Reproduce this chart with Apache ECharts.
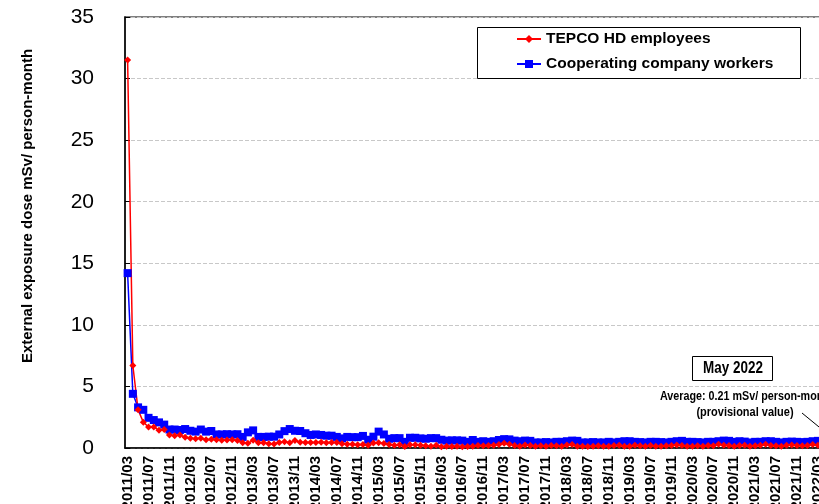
<!DOCTYPE html>
<html>
<head>
<meta charset="utf-8">
<script src="https://cdn.jsdelivr.net/npm/echarts@6/dist/echarts.min.js"></script>
<style>
  html, body { margin: 0; padding: 0; background: #fff; }
  #chart { width: 819px; height: 504px; }
</style>
</head>
<body>
<div id="chart"></div>
<script>
// month labels 2011/03 .. 2022/05
const months = [];
for (let y = 2011, m = 3; y < 2022 || (y === 2022 && m <= 5); m++) {
  if (m > 12) { m = 1; y++; }
  months.push(y + "/" + String(m).padStart(2, "0"));
}

const tepco = [
  31.5, 6.7, 3.1, 2.1, 1.7, 1.7, 1.45, 1.5, 1.05, 1.0,
  1.05, 0.87, 0.8, 0.75, 0.8, 0.67, 0.72, 0.67, 0.62, 0.64,
  0.67, 0.6, 0.43, 0.38, 0.62, 0.43, 0.43, 0.35, 0.33, 0.45,
  0.5, 0.43, 0.6, 0.46, 0.45, 0.45, 0.44, 0.46, 0.43, 0.45,
  0.44, 0.35, 0.3, 0.3, 0.27, 0.28, 0.22, 0.4, 0.43, 0.36,
  0.28, 0.22, 0.27, 0.12, 0.27, 0.27, 0.22, 0.18, 0.15, 0.22,
  0.1, 0.15, 0.12, 0.15, 0.1, 0.12, 0.15, 0.2, 0.18, 0.2,
  0.22, 0.28, 0.38, 0.3, 0.2, 0.15, 0.25, 0.2, 0.15, 0.18,
  0.15, 0.2, 0.18, 0.15, 0.25, 0.28, 0.15, 0.15, 0.12, 0.15,
  0.18, 0.15, 0.15, 0.2, 0.22, 0.15, 0.15, 0.22, 0.18, 0.15,
  0.2, 0.15, 0.15, 0.18, 0.2, 0.25, 0.2, 0.15, 0.15, 0.18,
  0.15, 0.2, 0.18, 0.3, 0.22, 0.2, 0.15, 0.2, 0.22, 0.15,
  0.18, 0.22, 0.3, 0.2, 0.18, 0.15, 0.22, 0.25, 0.2, 0.18,
  0.2, 0.28, 0.22, 0.25, 0.21
];

const workers = [
  14.2, 4.4, 3.3, 3.1, 2.45, 2.27, 2.08, 1.9, 1.5, 1.5,
  1.46, 1.54, 1.4, 1.33, 1.5, 1.33, 1.38, 1.1, 1.1, 1.12,
  1.1, 1.12, 0.9, 1.27, 1.43, 0.9, 0.9, 0.92, 0.92, 1.1,
  1.37, 1.54, 1.4, 1.38, 1.2, 1.06, 1.1, 1.06, 1.0, 1.0,
  0.9, 0.78, 0.9, 0.88, 0.88, 0.98, 0.67, 0.92, 1.33, 1.1,
  0.75, 0.8, 0.8, 0.5, 0.83, 0.83, 0.78, 0.75, 0.8, 0.8,
  0.67, 0.6, 0.62, 0.62, 0.6, 0.5, 0.65, 0.5, 0.55, 0.5,
  0.55, 0.65, 0.72, 0.7, 0.6, 0.55, 0.6, 0.58, 0.45, 0.45,
  0.48, 0.45, 0.5, 0.5, 0.55, 0.6, 0.58, 0.45, 0.45, 0.48,
  0.45, 0.45, 0.5, 0.45, 0.5, 0.55, 0.55, 0.5, 0.48, 0.45,
  0.5, 0.5, 0.48, 0.45, 0.5, 0.55, 0.58, 0.5, 0.5, 0.48,
  0.45, 0.5, 0.5, 0.55, 0.6, 0.58, 0.5, 0.55, 0.52, 0.45,
  0.5, 0.5, 0.55, 0.55, 0.5, 0.45, 0.5, 0.52, 0.5, 0.48,
  0.5, 0.55, 0.58, 0.55, 0.5
];

const seriesNames = ["TEPCO HD employees", "Cooperating company workers"];
const yTicks = [0, 5, 10, 15, 20, 25, 30, 35];

const FONT = '"Liberation Sans", Arial, sans-serif';

const chart = echarts.init(document.getElementById("chart"));
chart.setOption({
  animation: false,
  backgroundColor: "#fff",
  textStyle: { fontFamily: FONT },
  grid: {
    left: 125,
    top: 17,
    bottom: 56,
    right: -12,
    outerBoundsMode: "none",
    containLabel: false,
    show: true,
    borderColor: "#555",
    borderWidth: 1.5,
  },
  legend: {
    data: seriesNames,
    orient: "vertical",
    left: 516,
    top: 31,
    padding: 0,
    itemWidth: 24,
    itemHeight: 10,
    itemGap: 9,
    textStyle: { fontFamily: FONT, fontSize: 15.5, fontWeight: "bold", color: "#000" },
  },
  xAxis: {
    type: "category",
    data: months,
    boundaryGap: true,
    axisLine: { lineStyle: { color: "#000", width: 1.5 } },
    axisTick: { inside: true, interval: 3, length: 5, lineStyle: { color: "#000" } },
    axisLabel: {
      interval: 3,
      rotate: 90,
      margin: 8,
      fontFamily: FONT,
      fontSize: 15,
      fontWeight: "bold",
      color: "#000",
    },
    splitLine: { show: false },
  },
  yAxis: {
    type: "value",
    min: yTicks[0],
    max: yTicks[yTicks.length - 1],
    interval: 5,
    axisLine: { show: true, lineStyle: { color: "#000", width: 1.5 } },
    axisTick: { show: true, inside: true, length: 5, lineStyle: { color: "#000" } },
    axisLabel: { margin: 31, fontFamily: FONT, fontSize: 21, color: "#000" },
    splitLine: { show: true, lineStyle: { color: "#c8c8c8", type: "dashed", width: 1 } },
  },
  series: [
    {
      name: seriesNames[1],
      type: "line",
      data: workers,
      symbol: "rect",
      symbolSize: 8,
      showAllSymbol: true,
      itemStyle: { color: "#0000ff" },
      lineStyle: { color: "#0000ff", width: 1.5 },
    },
    {
      name: seriesNames[0],
      type: "line",
      data: tepco,
      symbol: "diamond",
      symbolSize: 7,
      showAllSymbol: true,
      itemStyle: { color: "#ff0000" },
      lineStyle: { color: "#ff0000", width: 1.5 },
    },
  ],
  graphic: [
    {
      type: "rect",
      shape: { x: 477.5, y: 27.5, width: 323, height: 51 },
      style: { fill: "none", stroke: "#000", lineWidth: 1 },
      z: 10,
    },
    {
      type: "text",
      x: 28,
      y: 206,
      rotation: Math.PI / 2,
      style: {
        text: "External exposure dose mSv/ person-month",
        fontFamily: FONT,
        fontSize: 15,
        fontWeight: "bold",
        fill: "#000",
        align: "center",
        verticalAlign: "middle",
      },
    },
    {
      type: "rect",
      shape: { x: 692.5, y: 356.5, width: 80, height: 24 },
      style: { fill: "#fff", stroke: "#000", lineWidth: 1 },
      z: 10,
    },
    {
      type: "text",
      x: 733,
      y: 369,
      scaleX: 0.84,
      style: {
        text: "May 2022",
        fontFamily: FONT,
        fontSize: 16,
        fontWeight: "bold",
        fill: "#000",
        align: "center",
        verticalAlign: "middle",
      },
      z: 11,
    },
    {
      type: "text",
      x: 660,
      y: 397,
      scaleX: 0.86,
      style: {
        text: "Average: 0.21 mSv/ person-month",
        fontFamily: FONT,
        fontSize: 12.5,
        fontWeight: "bold",
        fill: "#000",
        align: "left",
        verticalAlign: "middle",
      },
      z: 11,
    },
    {
      type: "text",
      x: 745,
      y: 413,
      scaleX: 0.88,
      style: {
        text: "(provisional value)",
        fontFamily: FONT,
        fontSize: 12.5,
        fontWeight: "bold",
        fill: "#000",
        align: "center",
        verticalAlign: "middle",
      },
      z: 11,
    },
    {
      type: "line",
      shape: { x1: 802, y1: 413, x2: 830, y2: 436 },
      style: { stroke: "#000", lineWidth: 1 },
      z: 11,
    },
  ],
});
</script>
</body>
</html>
